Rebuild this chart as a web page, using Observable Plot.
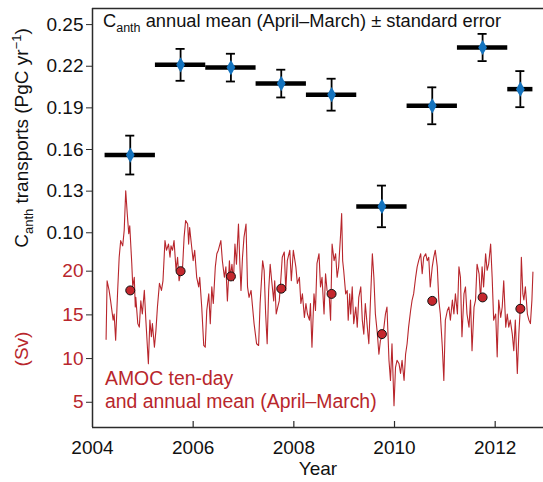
<!DOCTYPE html>
<html><head><meta charset="utf-8">
<script src="https://cdn.jsdelivr.net/npm/d3@7"></script>
<script src="https://cdn.jsdelivr.net/npm/@observablehq/plot@0.6"></script>
<style>body{margin:0;background:#fff;} svg{display:block}</style>
</head><body><div id="chart"></div>
<script>
// Canth annual means (April–March) ± standard error
const canthYear  = [2004.75, 2005.75, 2006.75, 2007.75, 2008.75, 2009.75, 2010.75, 2011.75, 2012.5];
const canthStart = [2004.25, 2005.25, 2006.25, 2007.25, 2008.25, 2009.25, 2010.25, 2011.25, 2012.25];
const canthEnd   = [2005.25, 2006.25, 2007.25, 2008.25, 2009.25, 2010.25, 2011.25, 2012.25, 2012.75];
const canthMean  = [0.156, 0.221, 0.219, 0.2075, 0.1995, 0.119, 0.1915, 0.2335, 0.2035];
const canthErr   = [0.014, 0.0115, 0.010, 0.010, 0.0115, 0.015, 0.0133, 0.0098, 0.013];

// AMOC annual means (Sv)
const amocAnnualYear = [2004.75, 2005.75, 2006.75, 2007.75, 2008.75, 2009.75, 2010.75, 2011.75, 2012.5];
const amocAnnual     = [17.8, 20.0, 19.4, 18.0, 17.4, 12.8, 16.6, 17.0, 15.7];

// AMOC ten-day series (Sv)
const amocYear = [
 2004.27,2004.29,2004.33,2004.36,2004.41,2004.43,2004.46,2004.50,2004.53,2004.56,
 2004.60,2004.63,2004.66,2004.69,2004.72,2004.74,2004.78,2004.80,2004.83,2004.85,
 2004.86,2004.90,2004.93,2004.96,2004.99,2005.03,2005.06,2005.11,2005.14,2005.17,
 2005.19,2005.23,2005.26,2005.29,2005.33,2005.37,2005.40,2005.44,2005.47,2005.51,
 2005.54,2005.56,2005.59,2005.62,2005.66,2005.69,2005.72,2005.76,2005.79,2005.82,
 2005.85,2005.89,2005.91,2005.93,2005.97,2006.00,2006.03,2006.07,2006.11,2006.13,
 2006.17,2006.21,2006.24,2006.27,2006.31,2006.34,2006.37,2006.40,2006.44,2006.47,
 2006.50,2006.55,2006.58,2006.62,2006.65,2006.68,2006.72,2006.74,2006.77,2006.80,
 2006.83,2006.86,2006.90,2006.93,2006.95,2006.98,2007.01,2007.05,2007.08,2007.11,
 2007.15,2007.18,2007.21,2007.26,2007.30,2007.33,2007.38,2007.41,2007.44,2007.47,
 2007.50,2007.53,2007.56,2007.60,2007.62,2007.65,2007.68,2007.71,2007.74,2007.77,
 2007.81,2007.84,2007.87,2007.92,2007.95,2007.99,2008.04,2008.07,2008.11,2008.14,
 2008.17,2008.21,2008.24,2008.27,2008.31,
 2008.33,2008.36,2008.40,2008.43,2008.46,2008.50,2008.53,2008.56,2008.60,2008.63,
 2008.66,2008.70,2008.73,2008.76,2008.80,2008.83,2008.86,2008.89,2008.93,2008.95,
 2008.97,2008.99,2009.03,2009.06,2009.08,2009.11,2009.13,2009.16,2009.19,2009.23,
 2009.26,2009.29,2009.33,2009.36,2009.39,2009.42,2009.46,2009.49,2009.52,2009.56,
 2009.59,2009.62,2009.66,2009.69,2009.72,2009.76,2009.79,2009.82,2009.85,2009.89,
 2009.92,2009.95,2009.99,2010.02,2010.05,2010.09,2010.12,2010.15,2010.19,2010.22,
 2010.25,2010.28,2010.32,2010.35,2010.38,2010.42,2010.45,2010.48,2010.52,2010.55,
 2010.58,2010.62,2010.65,2010.68,2010.71,2010.75,2010.78,2010.81,2010.85,2010.88,
 2010.91,2010.95,2010.98,2011.01,2011.05,2011.08,2011.11,2011.15,2011.18,2011.21,
 2011.25,2011.28,2011.31,2011.34,2011.38,2011.41,2011.44,2011.48,2011.51,2011.54,
 2011.58,2011.61,2011.64,2011.68,2011.71,2011.74,2011.77,2011.81,2011.84,2011.87,
 2011.91,2011.94,2011.97,2012.01,2012.04,2012.07,2012.11,2012.14,2012.17,2012.21,
 2012.24,2012.27,2012.30,2012.34,2012.37,2012.40,2012.44,2012.47,2012.50,2012.52,
 2012.55,2012.57,2012.60,2012.64,2012.67,2012.70,2012.73,2012.75
];
const amocSv = [
 12.2,18.9,17.8,16.6,14.4,15.1,12.1,17.8,21.6,23.5,
 22.9,24.7,29.2,26.6,24.3,25.2,20.9,18.2,19.3,15.9,
 17.0,14.0,13.6,16.6,15.1,17.8,14.4,9.4,14.4,12.5,
 14.0,11.3,13.2,15.9,18.6,17.8,18.9,23.5,22.4,23.1,
 21.6,22.9,22.4,23.5,20.1,21.6,18.9,20.1,20.5,23.9,
 25.8,25.4,23.1,25.0,22.8,21.2,22.4,19.3,18.2,19.3,
 15.9,11.5,11.3,15.5,17.4,14.0,18.2,16.3,20.5,22.0,
 22.4,23.5,21.2,19.3,20.5,16.6,21.2,19.3,20.8,18.9,
 23.1,20.8,25.4,20.5,17.8,21.6,23.9,25.4,18.2,17.0,
 17.8,15.9,14.0,11.7,11.5,16.3,21.2,20.1,15.1,11.7,
 17.8,20.8,18.9,16.6,18.9,15.1,15.9,16.6,18.9,21.6,
 22.2,17.8,21.2,22.4,18.9,22.4,20.5,18.6,19.3,16.3,
 17.4,14.7,16.3,15.1,14.4,
 16.3,11.3,17.4,15.5,20.9,22.0,18.2,19.3,15.1,19.7,
 17.8,17.4,14.4,23.1,21.2,22.0,19.3,20.5,24.3,26.6,
 21.2,20.1,17.4,17.8,14.4,17.4,15.1,18.2,14.0,15.9,
 13.6,17.0,18.2,14.4,12.8,16.3,13.6,11.7,16.3,22.0,
 19.3,15.1,12.8,10.5,12.1,12.5,13.6,15.1,15.9,9.8,
 7.5,11.7,4.6,9.0,9.8,9.4,8.3,9.8,7.5,10.5,
 11.7,13.6,15.5,16.7,17.4,19.3,20.5,21.2,22.0,19.7,
 21.6,22.0,21.2,21.6,18.2,20.5,21.6,22.4,20.5,16.7,
 15.1,11.3,7.5,14.4,15.5,15.9,14.4,16.7,15.1,17.4,
 15.1,20.5,19.3,12.5,17.4,18.2,15.1,13.6,16.7,10.9,
 15.9,16.7,20.8,19.7,16.7,20.5,18.2,22.0,20.1,20.8,
 23.1,19.3,14.4,15.1,10.2,16.7,14.7,15.9,18.9,13.6,
 15.1,13.6,14.4,12.8,10.9,14.4,8.3,12.8,15.9,21.6,
 17.4,16.7,18.2,15.1,14.4,14.0,16.7,19.9
];

// tick labels
const canthTicks = [0.10, 0.13, 0.16, 0.19, 0.22, 0.25];
const svTicks = [5, 10, 15, 20];
const yearTicks = [2004, 2006, 2008, 2010, 2012];

// shared vertical scale: Canth units; AMOC (Sv) mapped onto the lower part
const SV_OFFSET = 0.07233, SV_SLOPE = 0.006297;
const svToY = sv => SV_OFFSET + (sv - 20) * SV_SLOPE;
const yToSv = y => (y - SV_OFFSET) / SV_SLOPE + 20;

const yBot = -0.0403, yTop = 0.2616;
const plotH = 482, mTop = 8, mBottom = 55;
const pxY = (yTop - yBot) / (plotH - mTop - mBottom);
const tickLen = 6 * pxY;
const capHalf = 0.09;

const RED = "#b8262c", AX = "#2b2b2b", BLUE = "#1473be";

const plot = Plot.plot({
  width: 543, height: plotH,
  marginLeft: 92, marginRight: 0, marginTop: mTop, marginBottom: mBottom,
  style: {fontFamily: "'Liberation Sans', Arial, Helvetica, sans-serif", fontSize: "19px", color: "#111", background: "#fff", overflow: "visible"},
  x: {domain: [2004, 2012.96]},
  y: {domain: [yBot, yTop]},
  marks: [
    Plot.axisY({ticks: canthTicks, anchor: "left", tickSize: 6, tickPadding: 3, tickFormat: d3.format(".2f"), label: null, stroke: AX, fill: "#111"}),
    Plot.axisY({ticks: svTicks.map(svToY), anchor: "left", tickSize: 6, tickPadding: 3, tickFormat: d => String(Math.round(yToSv(d))), label: null, stroke: AX, fill: RED}),
    Plot.axisX({ticks: yearTicks, tickSize: 0, tickPadding: 13, tickFormat: d3.format("d"), label: null, fill: "#111"}),
    Plot.ruleX(yearTicks.slice(1), {x: d => d, y1: yBot, y2: yBot + tickLen, stroke: AX, strokeWidth: 1.2}),
    // AMOC
    Plot.line(amocSv, {x: (d, i) => amocYear[i], y: d => svToY(d), stroke: RED, strokeWidth: 1.1}),
    Plot.dot(amocAnnual, {x: (d, i) => amocAnnualYear[i], y: d => svToY(d), r: 4.5, fill: "#c4272d", stroke: "#111", strokeWidth: 1}),
    // Canth
    Plot.ruleX(canthMean, {x: (d, i) => canthYear[i], y1: (d, i) => d - canthErr[i], y2: (d, i) => d + canthErr[i], stroke: "#000", strokeWidth: 1.8}),
    Plot.ruleY(canthMean, {y: (d, i) => d + canthErr[i], x1: (d, i) => canthYear[i] - capHalf, x2: (d, i) => canthYear[i] + capHalf, stroke: "#000", strokeWidth: 1.8}),
    Plot.ruleY(canthMean, {y: (d, i) => d - canthErr[i], x1: (d, i) => canthYear[i] - capHalf, x2: (d, i) => canthYear[i] + capHalf, stroke: "#000", strokeWidth: 1.8}),
    Plot.ruleY(canthMean, {y: d => d, x1: (d, i) => canthStart[i], x2: (d, i) => canthEnd[i], stroke: "#000", strokeWidth: 4.5}),
    Plot.dot(canthMean, {x: (d, i) => canthYear[i], y: d => d, symbol: "diamond", r: 4.6, fill: BLUE, stroke: "none"}),
    // frame lines
    Plot.ruleX([2004], {stroke: AX, strokeWidth: 1.5}),
    Plot.ruleY([yBot, yTop], {stroke: AX, strokeWidth: 1.5})
  ]
});

const svg = d3.select(plot);
const FONT = "'Liberation Sans', Arial, Helvetica, sans-serif";
function richText(x, y, parts, attrs) {
  const t = svg.append("text").attr("x", x).attr("y", y)
    .attr("font-family", FONT).attr("font-size", 19).attr("text-anchor", "start");
  for (const [k, v] of Object.entries(attrs || {})) t.attr(k, v);
  for (const p of parts) {
    const s = t.append("tspan").text(p.t);
    if (p.dy) s.attr("dy", p.dy);
    if (p.size) s.attr("font-size", p.size);
  }
  return t;
}
// title
richText(103, 27, [
  {t: "C"}, {t: "anth", size: 12.5, dy: 5}, {t: " annual mean (April–March) ± standard error", size: 18.3, dy: -5}
], {fill: "#111", "font-size": 18.3});
// y label (Canth)
richText(0, 0, [
  {t: "C"}, {t: "anth", size: 13, dy: 5}, {t: " transports (PgC yr", size: 19, dy: -5},
  {t: "−1", size: 13, dy: -7}, {t: ")", size: 19, dy: 7}
], {fill: "#111", "text-anchor": "middle", transform: "translate(28,138) rotate(-90)"});
// y label (Sv)
richText(0, 0, [{t: "(Sv)"}], {fill: RED, "text-anchor": "middle", transform: "translate(28,349) rotate(-90)"});
// x label
richText(318, 475, [{t: "Year"}], {fill: "#111", "text-anchor": "middle"});
// AMOC annotation
richText(105, 385, [{t: "AMOC ten-day"}], {fill: RED, "font-size": 19.4});
richText(105, 408, [{t: "and annual mean (April–March)"}], {fill: RED, "font-size": 19.4});

document.getElementById("chart").appendChild(plot);
</script>
</body></html>
